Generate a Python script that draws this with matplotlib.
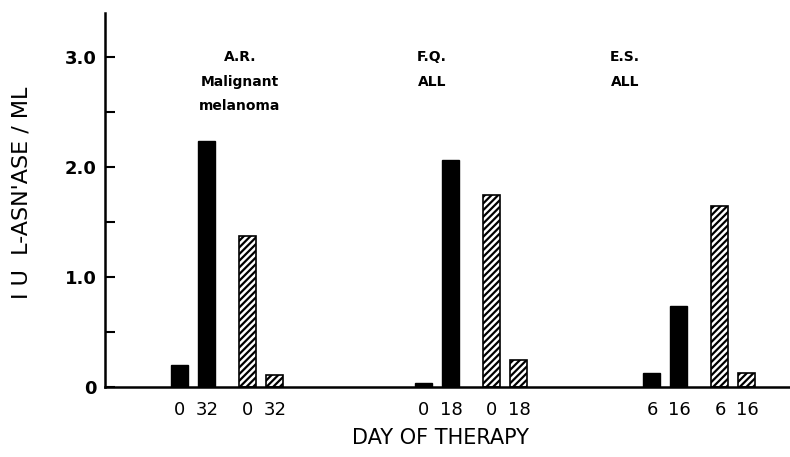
import matplotlib
matplotlib.use("Agg")
import matplotlib.pyplot as plt
from matplotlib.ticker import FixedLocator, MultipleLocator

# ---- data ----
patients = ["A.R.", "F.Q.", "E.S."]
diagnoses = [["Malignant", "melanoma"], ["ALL"], ["ALL"]]
days = [["0", "32", "0", "32"], ["0", "18", "0", "18"], ["6", "16", "6", "16"]]
solid_values = [[0.20, 2.24], [0.04, 2.06], [0.13, 0.74]]
hatched_values = [[1.37, 0.11], [1.75, 0.25], [1.65, 0.13]]
ytick_vals = [0, 1.0, 2.0, 3.0]
ytick_labels = ["0", "1.0", "2.0", "3.0"]

# ---- layout ----
group_starts = [75, 319, 547]
offsets = [0, 27, 68, 95]
bar_w = 17

fig = plt.figure(figsize=(7.9, 4.57), dpi=100)
ax = fig.add_axes([105 / 790, 70 / 457, 685 / 790, 374 / 457])
plt.rcParams['hatch.linewidth'] = 1.6

xs, labels = [], []
for g, start in enumerate(group_starts):
    pos = [start + o for o in offsets]
    ax.bar(pos[:2], solid_values[g], width=bar_w, color="black", edgecolor="black")
    ax.bar(pos[2:], hatched_values[g], width=bar_w, color="white", edgecolor="black",
           hatch="/////", linewidth=1.2)
    xs += pos
    labels += days[g]

ax.set_xlim(0, 685)
ax.set_ylim(0, 3.4)
ax.set_xticks(xs)
ax.set_xticklabels(labels, fontsize=13, fontfamily="DejaVu Sans")
ax.tick_params(axis="x", length=0, pad=10)
ax.yaxis.set_major_locator(FixedLocator(ytick_vals))
ax.set_yticklabels(ytick_labels, fontsize=13, fontweight="bold")
ax.yaxis.set_minor_locator(MultipleLocator(0.5))
ax.tick_params(axis="y", which="both", direction="in", length=7, width=1.5, pad=6)

for s in ["top", "right"]:
    ax.spines[s].set_visible(False)
ax.spines["left"].set_linewidth(1.8)
ax.spines["bottom"].set_linewidth(1.8)

label_x = [135, 327, 520]
line_y = [3.0, 2.77, 2.55]
for g in range(3):
    ax.text(label_x[g], line_y[0], patients[g], ha="center", va="center", fontsize=10,
            fontweight="bold")
    for k, line in enumerate(diagnoses[g]):
        ax.text(label_x[g], line_y[k + 1], line, ha="center", va="center", fontsize=10,
                fontweight="bold")

ax.set_xlabel("DAY OF THERAPY", fontsize=15)
ax.xaxis.set_label_coords(0.49, -0.11)
ax.set_ylabel("I U  L-ASN'ASE / ML", fontsize=16)
ax.yaxis.set_label_coords(-0.108, 0.52)

fig.savefig("out.png", dpi=100)
